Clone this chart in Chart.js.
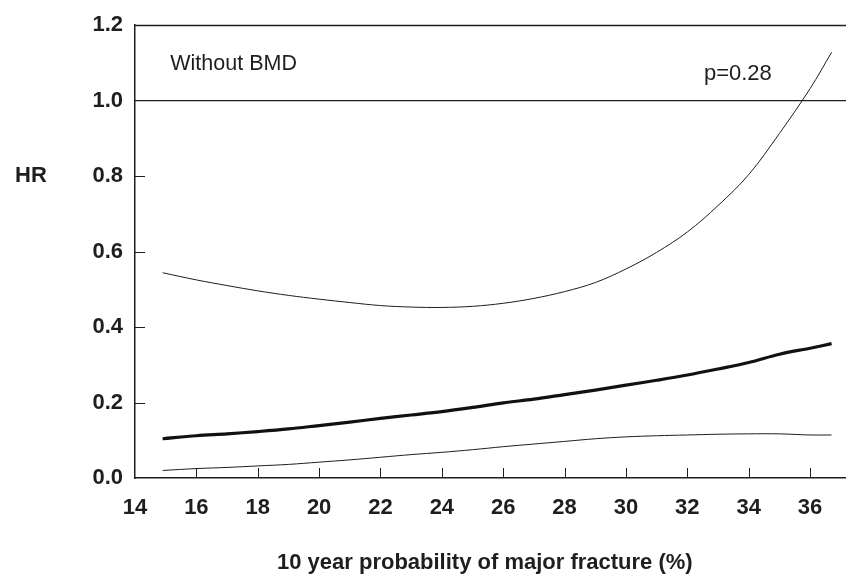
<!DOCTYPE html>
<html>
<head>
<meta charset="utf-8">
<script src="https://cdn.jsdelivr.net/npm/chart.js@4/dist/chart.umd.min.js"></script>
<style>
  html, body { margin: 0; padding: 0; background: #fff; }
  #wrap { width: 846px; height: 578px; }
</style>
</head>
<body>
<div id="wrap"><canvas id="c" width="846" height="578"></canvas></div>
<script>
// ---- Data ----
const probX  = [14.9, 16, 17, 18, 19, 20, 21, 22, 23, 24, 25, 26, 27, 28, 29, 30, 31, 32, 33, 34, 35, 36, 36.7];
const hrMain = [0.104, 0.112, 0.117, 0.123, 0.130, 0.139, 0.148, 0.158, 0.167, 0.176, 0.187, 0.199, 0.209, 0.221, 0.233, 0.246, 0.259, 0.273, 0.289, 0.306, 0.328, 0.344, 0.356];
const hrUpper = [0.544, 0.525, 0.510, 0.496, 0.484, 0.474, 0.465, 0.457, 0.453, 0.452, 0.455, 0.463, 0.476, 0.494, 0.518, 0.554, 0.598, 0.652, 0.722, 0.804, 0.913, 1.032, 1.128];
const hrLower = [0.020, 0.025, 0.028, 0.032, 0.036, 0.042, 0.048, 0.055, 0.062, 0.068, 0.075, 0.083, 0.090, 0.097, 0.104, 0.109, 0.112, 0.114, 0.116, 0.117, 0.117, 0.114, 0.114];
const refLineY = 1.0;
const xMin = 14, xMax = 37.17, xStep = 2;
const yMin = 0, yMax = 1.2, yStep = 0.2;
const panelLabel = "Without BMD";
const pLabel = "p=0.28";
const yTitle = "HR";
const xTitle = "10 year probability of major fracture (%)";

const ink = '#1e1e1e';
const FAM = '"Liberation Sans", Arial, Helvetica, sans-serif';
const pts = ys => probX.map((x, i) => ({ x: x, y: ys[i] }));

const decor = {
  id: 'decor',
  afterDraw(chart) {
    const ctx = chart.ctx, xs = chart.scales.x, ys = chart.scales.y;
    const ca = chart.chartArea;
    ctx.save();
    ctx.strokeStyle = ink;
    ctx.lineWidth = 1.3;
    // top frame line at yMax
    const yt = Math.round(ys.getPixelForValue(yMax)) + 0.5;
    ctx.beginPath(); ctx.moveTo(ca.left, yt); ctx.lineTo(ca.right, yt); ctx.stroke();
    // inward ticks
    ctx.lineWidth = 1;
    xs.ticks.forEach(t => {
      if (t.value <= xMin) return;
      const px = Math.round(xs.getPixelForValue(t.value)) + 0.5;
      ctx.beginPath(); ctx.moveTo(px, ca.bottom); ctx.lineTo(px, ca.bottom - 10); ctx.stroke();
    });
    ys.ticks.forEach(t => {
      if (t.value <= yMin || t.value >= refLineY - 1e-9) return;
      const py = Math.round(ys.getPixelForValue(t.value)) + 0.5;
      ctx.beginPath(); ctx.moveTo(ca.left, py); ctx.lineTo(ca.left + 10, py); ctx.stroke();
    });
    // texts
    ctx.fillStyle = ink;
    ctx.textBaseline = 'middle';
    ctx.textAlign = 'left';
    ctx.font = '21.5px ' + FAM;
    ctx.fillText(panelLabel, xs.getPixelForValue(15.15), ys.getPixelForValue(1.096));
    ctx.font = '22px ' + FAM;
    ctx.fillText(pLabel, xs.getPixelForValue(32.54), ys.getPixelForValue(1.072));
    ctx.font = 'bold 22px ' + FAM;
    ctx.textAlign = 'center';
    ctx.fillText(yTitle, 31, ys.getPixelForValue(0.8));
    ctx.fillText(xTitle, xs.getPixelForValue(25.4), 563);
    ctx.restore();
  }
};

new Chart(document.getElementById('c'), {
  type: 'line',
  data: {
    datasets: [
      { data: [{ x: xMin, y: refLineY }, { x: xMax, y: refLineY }], borderColor: ink, borderWidth: 1.3, pointRadius: 0, tension: 0 },
      { data: pts(hrUpper), borderColor: ink, borderWidth: 1, pointRadius: 0, tension: 0.35 },
      { data: pts(hrMain), borderColor: '#111', borderWidth: 3.2, pointRadius: 0, tension: 0.35 },
      { data: pts(hrLower), borderColor: ink, borderWidth: 1, pointRadius: 0, tension: 0.35 }
    ]
  },
  options: {
    responsive: false,
    animation: false,
    layout: { padding: { top: 22, right: 0, left: 0, bottom: 0 } },
    plugins: { legend: { display: false }, tooltip: { enabled: false } },
    scales: {
      x: {
        type: 'linear', min: xMin, max: xMax,
        grid: { display: false, drawTicks: false },
        border: { display: true, color: ink, width: 1.5 },
        ticks: { stepSize: xStep, includeBounds: false, color: ink, padding: 17, maxRotation: 0,
                 font: { family: FAM, size: 22, weight: 'bold' } },
        afterFit(s) { s.height = 100; }
      },
      y: {
        min: yMin, max: yMax,
        grid: { display: false, drawTicks: false },
        border: { display: true, color: ink, width: 1.5 },
        ticks: { stepSize: yStep, color: ink, padding: 12,
                 callback: v => Number(v).toFixed(1),
                 font: { family: FAM, size: 22, weight: 'bold' } },
        afterFit(s) { s.width = 135; }
      }
    }
  },
  plugins: [decor]
});
</script>
</body>
</html>
